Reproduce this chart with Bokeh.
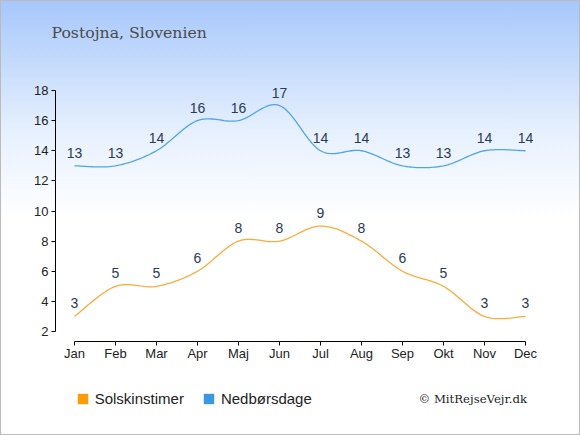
import numpy as np
from bokeh.plotting import figure
from bokeh.models import (Range1d, Legend, LegendItem, FixedTicker, ColumnDataSource, LabelSet,
                          Label, LinearAxis)
from bokeh.core.properties import value
from bokeh.embed import file_html
from bokeh.resources import INLINE

months = ["Jan", "Feb", "Mar", "Apr", "Maj", "Jun", "Jul", "Aug", "Sep", "Okt", "Nov", "Dec"]
sun = [3, 5, 5, 6, 8, 8, 9, 8, 6, 5, 3, 3]
rain = [13, 13, 14, 16, 16, 17, 14, 14, 13, 13, 14, 14]
y_ticks = [2, 4, 6, 8, 10, 12, 14, 16, 18]

SUN_C = "#fcab3a"
RAIN_C = "#4fa3ea"
TXT_C = "#2b3a55"


def catmull(xs, ys, n=20):
    xs = np.asarray(xs, float)
    ys = np.asarray(ys, float)
    px = np.concatenate([[xs[0]], xs, [xs[-1]]])
    py = np.concatenate([[ys[0]], ys, [ys[-1]]])
    ox, oy = [], []
    t = np.linspace(0, 1, n, endpoint=False)
    h00 = 2 * t**3 - 3 * t**2 + 1
    h10 = t**3 - 2 * t**2 + t
    h01 = -2 * t**3 + 3 * t**2
    h11 = t**3 - t**2
    for i in range(1, len(px) - 2):
        for arr, out in ((px, ox), (py, oy)):
            p0, p1, p2, p3 = arr[i - 1], arr[i], arr[i + 1], arr[i + 2]
            m1 = (p2 - p0) / 2.0
            m2 = (p3 - p1) / 2.0
            out.extend(h00 * p1 + h10 * m1 + h01 * p2 + h11 * m2)
    ox.append(xs[-1])
    oy.append(ys[-1])
    return ox, oy


x = list(range(len(months)))

W, H = 580, 435
PX_X = 41.0          # pixels per month
PX_Y = 15.0625       # pixels per unit
X0_PX = 74.0         # pixel position of first month
Y2_PX = 331.0        # pixel position of y=2

p = figure(width=W, height=H, output_backend="svg", toolbar_location=None,
           x_range=Range1d(-X0_PX / PX_X, (W - X0_PX) / PX_X),
           y_range=Range1d(2 - (H - Y2_PX) / PX_Y, 2 + Y2_PX / PX_Y),
           min_border=0, x_axis_type=None, y_axis_type=None)
p.styles = {"background": "linear-gradient(to bottom, #a6c7fb 0%, #e6f0fe 30%, #ffffff 50%)",
            "box-shadow": "inset 0 0 0 1px #bbbbbb"}
p.background_fill_alpha = 0
p.border_fill_alpha = 0
p.outline_line_color = None
p.grid.visible = False

# axes at fixed locations
xaxis = LinearAxis(ticker=FixedTicker(ticks=x), bounds=(0, 11),
                   fixed_location=2 - 10 / PX_Y,
                   major_label_overrides={i: m for i, m in enumerate(months)})
yaxis = LinearAxis(ticker=FixedTicker(ticks=y_ticks), bounds=(2, 18),
                   fixed_location=-(X0_PX - 55) / PX_X)
for ax in (xaxis, yaxis):
    ax.axis_line_color = "#000000"
    ax.major_tick_line_color = "#000000"
    ax.minor_tick_line_color = None
    ax.major_tick_in = 0
    ax.major_tick_out = 4
    ax.major_label_text_font = "Liberation Sans"
    ax.major_label_text_font_size = "13px"
    ax.major_label_text_color = "#222222"
xaxis.major_label_standoff = 0
yaxis.major_label_standoff = 3
p.add_layout(xaxis, "below")
p.add_layout(yaxis, "left")

# lines
sx, sy = catmull(x, sun)
rx, ry = catmull(x, rain)
p.line(sx, sy, line_color=SUN_C, line_width=1.3)
p.line(rx, ry, line_color=RAIN_C, line_width=1.3)

# value labels
src_s = ColumnDataSource(dict(x=x, y=sun, t=[str(v) for v in sun]))
src_r = ColumnDataSource(dict(x=x, y=rain, t=[str(v) for v in rain]))
for src in (src_s, src_r):
    ls = LabelSet(x="x", y="y", text="t", source=src, y_offset=13, text_align="center",
                  text_baseline="middle", text_font=value("Liberation Sans"),
                  text_font_size=value("14px"), text_color=TXT_C)
    p.add_layout(ls)

# title and copyright
p.add_layout(Label(x=51, y=H - 32, x_units="screen", y_units="screen",
                   text="Postojna, Slovenien", text_font="DejaVu Serif",
                   text_font_size="15.7px", text_color="#4a4a4a", text_baseline="middle"))
p.add_layout(Label(x=418, y=H - 398, x_units="screen", y_units="screen",
                   text="© MitRejseVejr.dk", text_font="DejaVu Serif",
                   text_font_size="11.7px", text_color="#222222", text_baseline="middle"))

# legend (key glyphs only: renderers hold a single non-drawable NaN entry)
nan = [float("nan")]
r1 = p.quad(left=nan, right=nan, top=nan, bottom=nan, fill_color="#ff9a00", line_color=None)
r2 = p.quad(left=nan, right=nan, top=nan, bottom=nan, fill_color="#3a97e6", line_color=None)
legend = Legend(items=[LegendItem(label="Solskinstimer", renderers=[r1]),
                       LegendItem(label="Nedbørsdage", renderers=[r2])],
                orientation="horizontal", location=(75.7, H - 408), background_fill_alpha=0,
                border_line_color=None, label_text_font="Liberation Sans",
                label_text_font_size="15px", label_text_color="#222222",
                glyph_width=13, glyph_height=13, label_height=20, spacing=18,
                padding=0, margin=0, label_standoff=6)
p.add_layout(legend, "center")

open("out.html", "w").write(file_html(p, INLINE))
